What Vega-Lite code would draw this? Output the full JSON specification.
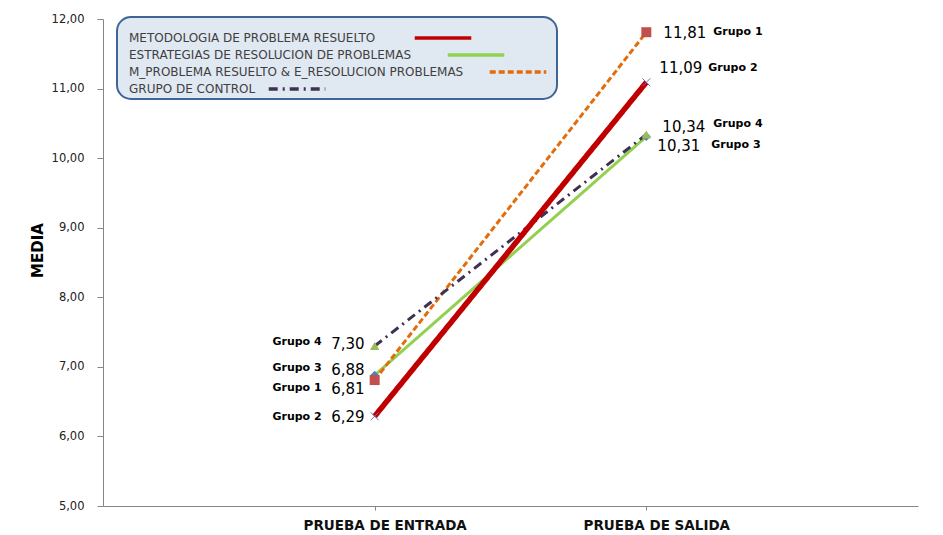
{
  "$schema": "https://vega.github.io/schema/vega-lite/v6.json",
  "width": 815,
  "height": 487,
  "autosize": {"type": "none"},
  "padding": {"left": 103, "top": 19, "right": 25, "bottom": 29},
  "background": "white",
  "config": {
    "view": {"stroke": null},
    "font": "DejaVu Sans",
    "locale": {"number": {"decimal": ",", "thousands": ".", "grouping": [3], "currency": ["", " €"]}}
  },
  "data": {
    "values": [
      {"serie": "METODOLOGIA DE PROBLEMA RESUELTO", "grupo": "Grupo 2", "prueba": "PRUEBA DE ENTRADA", "media": 6.29},
      {"serie": "METODOLOGIA DE PROBLEMA RESUELTO", "grupo": "Grupo 2", "prueba": "PRUEBA DE SALIDA", "media": 11.09},
      {"serie": "ESTRATEGIAS DE RESOLUCION DE PROBLEMAS", "grupo": "Grupo 3", "prueba": "PRUEBA DE ENTRADA", "media": 6.88},
      {"serie": "ESTRATEGIAS DE RESOLUCION DE PROBLEMAS", "grupo": "Grupo 3", "prueba": "PRUEBA DE SALIDA", "media": 10.31},
      {"serie": "M_PROBLEMA RESUELTO & E_RESOLUCION PROBLEMAS", "grupo": "Grupo 1", "prueba": "PRUEBA DE ENTRADA", "media": 6.81},
      {"serie": "M_PROBLEMA RESUELTO & E_RESOLUCION PROBLEMAS", "grupo": "Grupo 1", "prueba": "PRUEBA DE SALIDA", "media": 11.81},
      {"serie": "GRUPO DE CONTROL", "grupo": "Grupo 4", "prueba": "PRUEBA DE ENTRADA", "media": 7.30},
      {"serie": "GRUPO DE CONTROL", "grupo": "Grupo 4", "prueba": "PRUEBA DE SALIDA", "media": 10.34}
    ]
  },
  "encoding": {
    "x": {
      "field": "prueba", "type": "ordinal",
      "sort": ["PRUEBA DE ENTRADA", "PRUEBA DE SALIDA"],
      "scale": {"type": "point", "padding": 1},
      "axis": {
        "title": null, "labelAngle": 0, "domainColor": "#868686", "tickColor": "#868686",
        "tickSize": 4, "labelPadding": 8, "labelOffset": 10, "labelFont": "DejaVu Sans", "labelFontWeight": "bold",
        "labelFontSize": 13.5, "labelColor": "#111111", "grid": false
      }
    },
    "y": {
      "field": "media", "type": "quantitative",
      "scale": {"domain": [5, 12], "nice": false, "zero": false},
      "axis": {
        "values": [5, 6, 7, 8, 9, 10, 11, 12], "format": ".2f", "grid": false,
        "domainColor": "#868686", "tickColor": "#868686", "tickSize": 6, "labelPadding": 13,
        "labelFont": "DejaVu Sans", "labelFontSize": 11.5, "labelColor": "#222222",
        "title": "MEDIA", "titleFont": "DejaVu Sans", "titleFontWeight": "bold", "titleFontSize": 15,
        "titleColor": "#000000", "titlePadding": 6, "titleY": 231
      }
    }
  },
  "layer": [
    {
      "transform": [{"filter": "datum.serie !== 'METODOLOGIA DE PROBLEMA RESUELTO'"}],
      "mark": {"type": "line", "strokeWidth": 3},
      "encoding": {
        "color": {
          "field": "serie", "type": "nominal",
          "scale": {
            "domain": ["METODOLOGIA DE PROBLEMA RESUELTO", "ESTRATEGIAS DE RESOLUCION DE PROBLEMAS", "M_PROBLEMA RESUELTO & E_RESOLUCION PROBLEMAS", "GRUPO DE CONTROL"],
            "range": ["#C00000", "#92D050", "#E46C0A", "#3F3151"]
          },
          "legend": {
            "orient": "none", "legendX": 14, "legendY": -2,
            "title": " ",
            "titleFontSize": 12, "titlePadding": 0, "titleFont": "DejaVu Sans",
            "fillColor": "#E0E8F2", "strokeColor": "#3F6496", "cornerRadius": 14, "padding": 3,
            "labelFont": "DejaVu Sans", "labelFontSize": 12, "labelColor": "#404040", "labelLimit": 600,
            "labelOffset": 17,
            "symbolType": "M-8,0H8", "symbolSize": 50, "symbolStrokeWidth": 3.5, "rowPadding": 3,
            "encode": {
              "symbols": {"update": {"x": {"signal": "datum.value === 'METODOLOGIA DE PROBLEMA RESUELTO' ? 323 : datum.value === 'ESTRATEGIAS DE RESOLUCION DE PROBLEMAS' ? 356 : datum.value === 'GRUPO DE CONTROL' ? 177 : 398"}}},
              "labels": {"update": {"x": {"value": 9}}},
              "legend": {"update": {"strokeWidth": {"value": 2}}}
            }
          }
        },
        "strokeDash": {
          "field": "serie", "type": "nominal",
          "scale": {
            "domain": ["METODOLOGIA DE PROBLEMA RESUELTO", "ESTRATEGIAS DE RESOLUCION DE PROBLEMAS", "M_PROBLEMA RESUELTO & E_RESOLUCION PROBLEMAS", "GRUPO DE CONTROL"],
            "range": [[1, 0], [1, 0], [6, 3], [9, 5, 2, 5]]
          }
        }
      }
    },
    {
      "transform": [{"filter": "datum.serie === 'METODOLOGIA DE PROBLEMA RESUELTO'"}],
      "mark": {"type": "line", "strokeWidth": 5.5},
      "encoding": {
        "color": {"field": "serie", "type": "nominal"},
        "strokeDash": {"field": "serie", "type": "nominal"}
      }
    },
    {
      "transform": [{"filter": "datum.grupo === 'Grupo 3'"}],
      "mark": {"type": "point", "filled": true, "shape": "diamond", "size": 80, "opacity": 1, "color": "#4F81BD"}
    },
    {
      "transform": [{"filter": "datum.grupo === 'Grupo 4'"}],
      "mark": {"type": "point", "filled": true, "shape": "triangle-up", "size": 90, "opacity": 1, "color": "#9BBB59"}
    },
    {
      "transform": [{"filter": "datum.grupo === 'Grupo 1'"}],
      "mark": {"type": "point", "filled": true, "shape": "square", "size": 100, "opacity": 1, "color": "#C0504D"}
    },
    {
      "transform": [{"filter": "datum.grupo === 'Grupo 2'"}],
      "mark": {"type": "point", "filled": false, "shape": "M-1,-1L1,1M-1,1L1,-1", "size": 64, "opacity": 1, "color": "#7F6BA8", "strokeWidth": 1}
    },
    {
      "transform": [{"filter": "datum.prueba === 'PRUEBA DE ENTRADA' && datum.grupo === 'Grupo 4'"}],
      "layer": [
        {"mark": {"type": "text", "align": "right", "baseline": "middle", "dx": -10, "dy": -2, "fontSize": 15, "font": "DejaVu Sans", "color": "#000000"}, "encoding": {"text": {"field": "media", "type": "quantitative", "format": ".2f"}}},
        {"mark": {"type": "text", "align": "right", "baseline": "middle", "dx": -53, "dy": -4, "fontSize": 11, "fontWeight": "bold", "font": "DejaVu Sans", "color": "#000000"}, "encoding": {"text": {"field": "grupo"}}}
      ]
    },
    {
      "transform": [{"filter": "datum.prueba === 'PRUEBA DE ENTRADA' && datum.grupo === 'Grupo 3'"}],
      "layer": [
        {"mark": {"type": "text", "align": "right", "baseline": "middle", "dx": -10, "dy": -5, "fontSize": 15, "font": "DejaVu Sans", "color": "#000000"}, "encoding": {"text": {"field": "media", "type": "quantitative", "format": ".2f"}}},
        {"mark": {"type": "text", "align": "right", "baseline": "middle", "dx": -53, "dy": -7, "fontSize": 11, "fontWeight": "bold", "font": "DejaVu Sans", "color": "#000000"}, "encoding": {"text": {"field": "grupo"}}}
      ]
    },
    {
      "transform": [{"filter": "datum.prueba === 'PRUEBA DE ENTRADA' && datum.grupo === 'Grupo 1'"}],
      "layer": [
        {"mark": {"type": "text", "align": "right", "baseline": "middle", "dx": -10, "dy": 9, "fontSize": 15, "font": "DejaVu Sans", "color": "#000000"}, "encoding": {"text": {"field": "media", "type": "quantitative", "format": ".2f"}}},
        {"mark": {"type": "text", "align": "right", "baseline": "middle", "dx": -53, "dy": 8, "fontSize": 11, "fontWeight": "bold", "font": "DejaVu Sans", "color": "#000000"}, "encoding": {"text": {"field": "grupo"}}}
      ]
    },
    {
      "transform": [{"filter": "datum.prueba === 'PRUEBA DE ENTRADA' && datum.grupo === 'Grupo 2'"}],
      "layer": [
        {"mark": {"type": "text", "align": "right", "baseline": "middle", "dx": -10, "dy": 1, "fontSize": 15, "font": "DejaVu Sans", "color": "#000000"}, "encoding": {"text": {"field": "media", "type": "quantitative", "format": ".2f"}}},
        {"mark": {"type": "text", "align": "right", "baseline": "middle", "dx": -53, "dy": 1, "fontSize": 11, "fontWeight": "bold", "font": "DejaVu Sans", "color": "#000000"}, "encoding": {"text": {"field": "grupo"}}}
      ]
    },
    {
      "transform": [{"filter": "datum.prueba === 'PRUEBA DE SALIDA' && datum.grupo === 'Grupo 1'"}],
      "layer": [
        {"mark": {"type": "text", "align": "left", "baseline": "middle", "dx": 17, "dy": 1, "fontSize": 15, "font": "DejaVu Sans", "color": "#000000"}, "encoding": {"text": {"field": "media", "type": "quantitative", "format": ".2f"}}},
        {"mark": {"type": "text", "align": "left", "baseline": "middle", "dx": 67, "dy": 0, "fontSize": 11, "fontWeight": "bold", "font": "DejaVu Sans", "color": "#000000"}, "encoding": {"text": {"field": "grupo"}}}
      ]
    },
    {
      "transform": [{"filter": "datum.prueba === 'PRUEBA DE SALIDA' && datum.grupo === 'Grupo 2'"}],
      "layer": [
        {"mark": {"type": "text", "align": "left", "baseline": "middle", "dx": 13, "dy": -14, "fontSize": 15, "font": "DejaVu Sans", "color": "#000000"}, "encoding": {"text": {"field": "media", "type": "quantitative", "format": ".2f"}}},
        {"mark": {"type": "text", "align": "left", "baseline": "middle", "dx": 62, "dy": -14, "fontSize": 11, "fontWeight": "bold", "font": "DejaVu Sans", "color": "#000000"}, "encoding": {"text": {"field": "grupo"}}}
      ]
    },
    {
      "transform": [{"filter": "datum.prueba === 'PRUEBA DE SALIDA' && datum.grupo === 'Grupo 4'"}],
      "layer": [
        {"mark": {"type": "text", "align": "left", "baseline": "middle", "dx": 16, "dy": -7, "fontSize": 15, "font": "DejaVu Sans", "color": "#000000"}, "encoding": {"text": {"field": "media", "type": "quantitative", "format": ".2f"}}},
        {"mark": {"type": "text", "align": "left", "baseline": "middle", "dx": 67, "dy": -10, "fontSize": 11, "fontWeight": "bold", "font": "DejaVu Sans", "color": "#000000"}, "encoding": {"text": {"field": "grupo"}}}
      ]
    },
    {
      "transform": [{"filter": "datum.prueba === 'PRUEBA DE SALIDA' && datum.grupo === 'Grupo 3'"}],
      "layer": [
        {"mark": {"type": "text", "align": "left", "baseline": "middle", "dx": 11, "dy": 9, "fontSize": 15, "font": "DejaVu Sans", "color": "#000000"}, "encoding": {"text": {"field": "media", "type": "quantitative", "format": ".2f"}}},
        {"mark": {"type": "text", "align": "left", "baseline": "middle", "dx": 65, "dy": 8, "fontSize": 11, "fontWeight": "bold", "font": "DejaVu Sans", "color": "#000000"}, "encoding": {"text": {"field": "grupo"}}}
      ]
    }
  ]
}
